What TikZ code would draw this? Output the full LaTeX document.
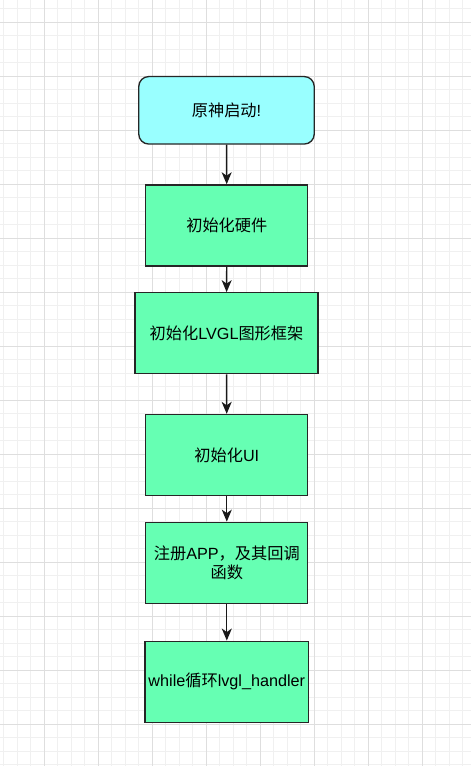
\documentclass[tikz,border=0pt]{standalone}
\usepackage{fontspec}
\setmainfont{Liberation Sans}
\newfontfamily\cjk{Noto Sans CJK SC}
\newcommand{\zh}[1]{{\cjk #1}}
\usetikzlibrary{arrows.meta}
\definecolor{startcyan}{HTML}{99FFFF}
\definecolor{stepgreen}{HTML}{66FFB3}
\tikzset{
  minorline/.style={black!6, line width=0.8pt},
  majorline/.style={black!13, line width=0.8pt},
  startbox/.style={draw=black!85, fill=startcyan, rounded corners=10pt, line width=1.35pt,
    minimum width=175.5pt, minimum height=67.5pt, align=center},
  stepbox/.style={draw=black!85, fill=stepgreen, line width=1.35pt,
    minimum width=162pt, minimum height=81pt, align=center},
  flow/.style={-{Stealth[length=12pt,width=10pt,inset=3.5pt]}, line width=1.35pt, black!90},
}
\begin{document}
\begin{tikzpicture}[x=1pt, y=-1pt, font=\fontsize{16.2}{19.5}\selectfont]
    \useasboundingbox (0,0) rectangle (471,766);
    \fill[white] (0,0) rectangle (471,766);

    % 背景网格
    \foreach \i in {0,...,34} {
        \draw[minorline] (3.5+13.5*\i, 0) -- (3.5+13.5*\i, 766);
    }
    \foreach \j in {0,...,56} {
        \draw[minorline] (0, 8.5+13.5*\j) -- (471, 8.5+13.5*\j);
    }
    \foreach \i in {0,...,8} {
        \draw[majorline] (44+54*\i, 0) -- (44+54*\i, 766);
    }
    \foreach \j in {0,...,14} {
        \draw[majorline] (0, 22+54*\j) -- (471, 22+54*\j);
    }

    % 流程
    \node[startbox] (start) at (226.5, 110.3) {\zh{原神启动}!};
    \node[stepbox] (hw) at (226.8, 225.4) {\zh{初始化硬件}};
    \node[stepbox, minimum width=183pt] (lvgl) at (226.5, 333.3) {\zh{初始化}LVGL\zh{图形框架}};
    \node[stepbox] (ui) at (226.8, 455) {\zh{初始化}UI};
    \node[stepbox] (app) at (226.8, 562.8) {\zh{注册}APP\zh{，及其回调}\\\zh{函数}};
    \node[stepbox] (loop) at (226.8, 681.7) {while\zh{循环}lvgl\_handler};

    \draw[flow] (start) -- (hw);
    \draw[flow] (hw) -- (lvgl);
    \draw[flow] (lvgl) -- (ui);
    \draw[flow] (ui) -- (app);
    \draw[flow] (app) -- (loop);
\end{tikzpicture}
\end{document}
